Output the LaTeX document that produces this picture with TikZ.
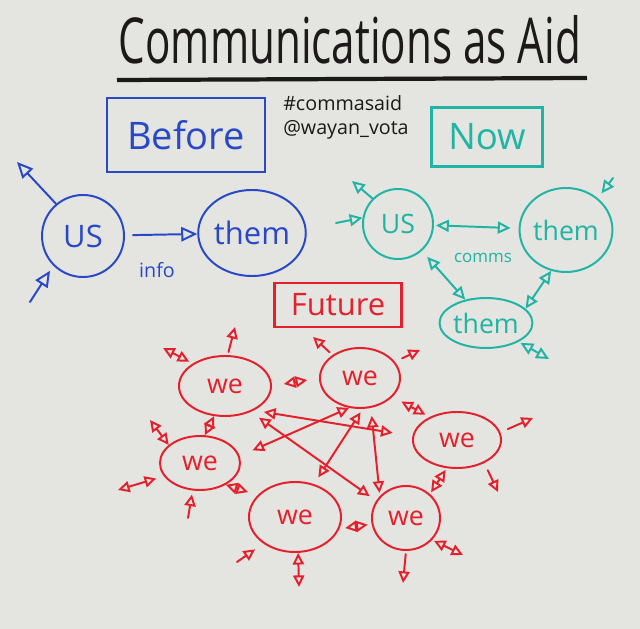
\documentclass[tikz,border=0pt]{standalone}
\usepackage{fontspec}
\setmainfont{Open Sans}
\usetikzlibrary{arrows.meta,shapes.geometric,positioning}
\definecolor{board}{HTML}{E4E4E0}
\definecolor{inkblue}{HTML}{2848C8}
\definecolor{inkteal}{HTML}{1FB4A3}
\definecolor{inkred}{HTML}{E5202C}
\definecolor{inkblack}{HTML}{1C1A18}

\begin{document}
\begin{tikzpicture}[
    x=0.025cm, y=-0.025cm,
    ink/.style={line width=1.4pt, line cap=round},
    titletext/.style={text=inkblack, font=\fontsize{30}{32}\selectfont},
    tagtext/.style={text=inkblack, anchor=west, inner sep=0pt, font=\fontsize{14}{16}\selectfont},
    bluebox/.style={draw=inkblue, line width=2pt, text=inkblue, inner sep=0pt, font=\fontsize{27}{30}\selectfont},
    bluenode/.style={draw=inkblue, ink, text=inkblue, inner sep=0pt, font=\fontsize{22}{24}\selectfont},
    bluearr/.style={draw=inkblue, ink, >={Triangle[open, length=4mm, width=3.6mm]}, ->},
    tealbox/.style={draw=inkteal, line width=2pt, text=inkteal, inner sep=0pt, font=\fontsize{26}{28}\selectfont},
    tealnode/.style={draw=inkteal, ink, text=inkteal, inner sep=0pt, font=\fontsize{19}{21}\selectfont},
    tealarr/.style={draw=inkteal, ink, >={Triangle[open, length=3.2mm, width=3mm]}},
    redbox/.style={draw=inkred, line width=1.8pt, text=inkred, inner sep=0pt, font=\fontsize{22}{24}\selectfont},
    wenode/.style={draw=inkred, ink, ellipse, text=inkred, inner sep=0pt, font=\fontsize{19}{21}\selectfont},
    redarr/.style={draw=inkred, ink, >={Triangle[open, length=2.9mm, width=2.8mm]}}
  ]
    \fill[board] (0,0) rectangle (640,629);

    % title
    \node[titletext] (title) at (350,40) {\scalebox{1}[1.5]{Communications as Aid}};
    \coordinate (ul1) at (117,80);
    \coordinate (ul2) at (587,78);
    \draw[inkblack, line width=3pt] (ul1) -- (ul2);
    \node[tagtext] (hashtag) at (283,103) {\#commasaid};
    \node[tagtext] (handle) at (283,130) {@wayan\_vota};

    % before
    \node[bluebox, minimum width=3.95cm, minimum height=1.85cm] (before) at (186,135) {Before};
    \node[bluenode, circle, minimum size=2.05cm] (us1) at (83,236) {US};
    \node[bluenode, ellipse, minimum width=2.5cm, minimum height=2.15cm] (them1) at (252,233) {them};
    \node[text=inkblue, font=\fontsize{14}{16}\selectfont] (info) at (157,270) {info};
    \coordinate (b1) at (17,162);
    \coordinate (b2) at (30,302);
    \draw[bluearr, shorten <=0.2cm] (us1) -- (them1);
    \draw[bluearr] (us1.130) -- (b1);
    \draw[bluearr, shorten >=0.15cm] (b2) -- (us1.225);

    % now
    \node[tealbox, minimum width=2.78cm, minimum height=1.48cm] (now) at (487,137) {Now};
    \node[tealnode, circle, minimum size=1.75cm] (us2) at (398,224) {US};
    \node[tealnode, ellipse, minimum width=2.3cm, minimum height=2.1cm] (them2) at (566,230) {them};
    \node[tealnode, ellipse, minimum width=1.9cm, minimum height=1.25cm] (them3) at (486,323) {them};
    \node[text=inkteal, font=\fontsize{12}{14}\selectfont] (comms) at (483,258) {comms};
    \coordinate (t1) at (352,181);
    \coordinate (t2) at (336,223);
    \coordinate (t3) at (613,178);
    \coordinate (t4) at (549,359);
    \draw[tealarr, <->, shorten <=0.05cm, shorten >=0.2cm] (us2) -- (them2);
    \draw[tealarr, <->, shorten <=0.2cm] (us2) -- (them3);
    \draw[tealarr, <->] (them3.20) -- (them2.250);
    \draw[tealarr, ->] (us2.135) -- (t1);
    \draw[tealarr, ->] (t2) -- (us2.170);
    \draw[tealarr, ->, shorten >=0.15cm] (t3) -- (them2.45);
    \draw[tealarr, <->, shorten <=0.05cm] (them3.-30) -- (t4);

    % future
    \node[redbox, minimum width=3.18cm, minimum height=1.1cm] (future) at (338,305) {Future};
    \node[wenode, minimum width=2.3cm, minimum height=1.5cm] (we1) at (225,386) {we};
    \node[wenode, minimum width=2.0cm, minimum height=1.5cm] (we2) at (360,378) {we};
    \node[wenode, minimum width=2.0cm, minimum height=1.35cm] (we3) at (200,463) {we};
    \node[wenode, minimum width=2.2cm, minimum height=1.4cm] (we4) at (457,440) {we};
    \node[wenode, minimum width=2.3cm, minimum height=1.75cm] (we5) at (295,517) {we};
    \node[wenode, minimum width=1.7cm, minimum height=1.6cm] (we6) at (406,518) {we};

    % links between the we nodes
    \draw[redarr, <->, shorten <=0.3cm, shorten >=0.3cm] (we1.east) -- (we2.west);
    \draw[redarr, <->] (we1.250) -- (we3.80);
    \draw[redarr, <->, shorten <=0.25cm, shorten >=0.12cm] (we2.-30) -- (we4.140);
    \draw[redarr, <->, shorten <=0.05cm, shorten >=0.05cm] (we4.250) -- (we6.45);
    \draw[redarr, <->, shorten <=0.15cm, shorten >=0.1cm] (we5.-15) -- (we6.190);
    \draw[redarr, <->, shorten >=0.25cm] (we3.-40) -- (we5.150);
    \draw[redarr, <->, shorten <=0.25cm, shorten >=0.2cm] (we1.-45) -- (we6.150);
    \draw[redarr, <->, shorten <=0.25cm, shorten >=0.5cm] (we1.-40) -- (we4.175);
    \draw[redarr, <->, shorten <=0.35cm] (we3.10) -- (we2.250);
    \draw[redarr, <->, shorten <=0.2cm, shorten >=0.1cm] (we5.60) -- (we2.-85);
    \draw[redarr, <->, shorten <=0.2cm, shorten >=0.08cm] (we2.-70) -- (we6.140);

    % loose ends
    \coordinate (r1) at (163,348);
    \coordinate (r2) at (235,327);
    \coordinate (r3) at (313,337);
    \coordinate (r4) at (420,350);
    \coordinate (r5) at (150,420);
    \coordinate (r6) at (118,490);
    \coordinate (r7) at (188,518);
    \coordinate (r8) at (533,418);
    \coordinate (r9) at (498,492);
    \coordinate (r10) at (237,562);
    \coordinate (r11) at (299,587);
    \coordinate (r12) at (403,583);
    \coordinate (r13) at (463,555);
    \draw[redarr, <->, shorten <=0.1cm] (we1.145) -- (r1);
    \draw[redarr, ->, shorten <=0.08cm] (we1.85) -- (r2);
    \draw[redarr, ->, shorten <=0.1cm] (we2.140) -- (r3);
    \draw[redarr, ->, shorten <=0.2cm] (we2.25) -- (r4);
    \draw[redarr, <->] (we3.150) -- (r5);
    \draw[redarr, <->, shorten <=0.2cm] (we3.200) -- (r6);
    \draw[redarr, ->, shorten >=0.1cm] (r7) -- (we3.-105);
    \draw[redarr, ->, shorten <=0.2cm] (we4.10) -- (r8);
    \draw[redarr, ->, shorten <=0.2cm] (we4.-40) -- (r9);
    \draw[redarr, ->, shorten >=0.25cm] (r10) -- (we5.220);
    \draw[redarr, <->] (we5.-85) -- (r11);
    \draw[redarr, ->, shorten <=0.08cm] (we6.south) -- (r12);
    \draw[redarr, <->, shorten <=0.05cm] (we6.-40) -- (r13);
  \end{tikzpicture}
\end{document}
